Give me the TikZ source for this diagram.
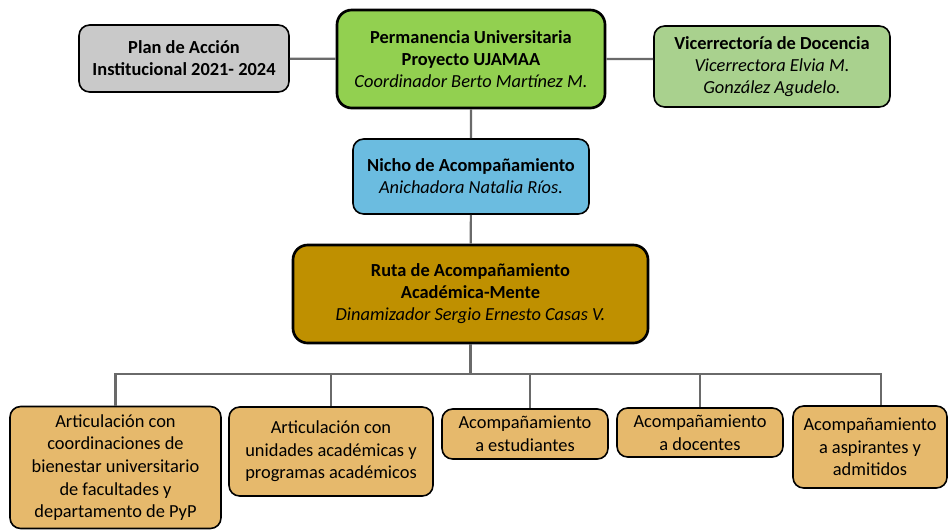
\documentclass[tikz,border=0pt]{standalone}
\usepackage{fontspec}
\setmainfont{Carlito}
\definecolor{planc}{HTML}{C9C9C9}
\definecolor{permc}{HTML}{92D050}
\definecolor{vicec}{HTML}{A9D18E}
\definecolor{nichoc}{HTML}{6BBCE0}
\definecolor{rutac}{HTML}{BF9000}
\definecolor{linc}{HTML}{E6B96C}
\definecolor{wirec}{HTML}{6A6A6A}
\begin{document}
\begin{tikzpicture}[x=0.75pt,y=-0.75pt,
        box/.style={draw=black,line width=1.2pt,rounded corners=8pt,align=center,inner sep=0pt,
            font=\fontsize{13.8}{16.5}\selectfont},
        bigbox/.style={box,line width=2pt,rounded corners=11pt},
        linebox/.style={box,fill=linc,font=\fontsize{13.8}{17}\selectfont},
        wire/.style={draw=wirec,line width=1.6pt}]
    \useasboundingbox (0,0) rectangle (948,529);
    \node[bigbox,fill=permc,minimum width=268*0.75pt,minimum height=98*0.75pt] (perm) at (471,59)
        {\textbf{Permanencia Universitaria}\\ \textbf{Proyecto UJAMAA}\\ \textit{Coordinador Berto Martínez M.}};
    \node[box,fill=planc,minimum width=210*0.75pt,minimum height=67*0.75pt] (plan) at (184,58.5)
        {\textbf{Plan de Acción}\\ \textbf{Institucional 2021- 2024}};
    \node[box,fill=vicec,minimum width=236*0.75pt,minimum height=81*0.75pt] (vice) at (772,66.5)
        {\textbf{Vicerrectoría de Docencia}\\ \textit{Vicerrectora Elvia M.}\\ \textit{González Agudelo.}};
    \node[box,fill=nichoc,minimum width=236*0.75pt,minimum height=75*0.75pt] (nicho) at (471,176.5)
        {\textbf{Nicho de Acompañamiento}\\ \textit{Anichadora Natalia Ríos.}};
    \node[bigbox,fill=rutac,minimum width=355*0.75pt,minimum height=98*0.75pt] (ruta) at (470.5,294)
        {\textbf{Ruta de Acompañamiento}\\ \textbf{Académica-Mente}\\ \textit{Dinamizador Sergio Ernesto Casas V.}};
    \node[linebox,minimum width=211*0.75pt,minimum height=122*0.75pt] (bien) at (115.5,467.5)
        {Articulación con\\ coordinaciones de\\ bienestar universitario\\ de facultades y\\ departamento de PyP};
    \node[linebox,minimum width=204*0.75pt,minimum height=89*0.75pt] (unid) at (331,451.5)
        {Articulación con\\ unidades académicas y\\ programas académicos};
    \node[linebox,minimum width=166*0.75pt,minimum height=50*0.75pt] (estu) at (525,434)
        {Acompañamiento\\ a estudiantes};
    \node[linebox,minimum width=166*0.75pt,minimum height=49*0.75pt] (doce) at (700,432.5)
        {Acompañamiento\\ a docentes};
    \node[linebox,minimum width=154*0.75pt,minimum height=82*0.75pt] (aspi) at (870,447)
        {Acompañamiento\\ a aspirantes y\\ admitidos};
    \coordinate (bus) at (0,374);
    \begin{scope}[on background layer/.try]
        \draw[wire] (plan) -- (perm) -- (vice.west |- perm);
        \draw[wire] (perm) -- (nicho) -- (ruta);
        \foreach \b/\dx in {bien/0,unid/0,estu/5,doce/0,aspi/11}
            \draw[wire] (ruta.south) -- (ruta.south |- bus) -| ([xshift=\dx*0.75pt]\b.north);
    \end{scope}
\end{tikzpicture}
\end{document}
